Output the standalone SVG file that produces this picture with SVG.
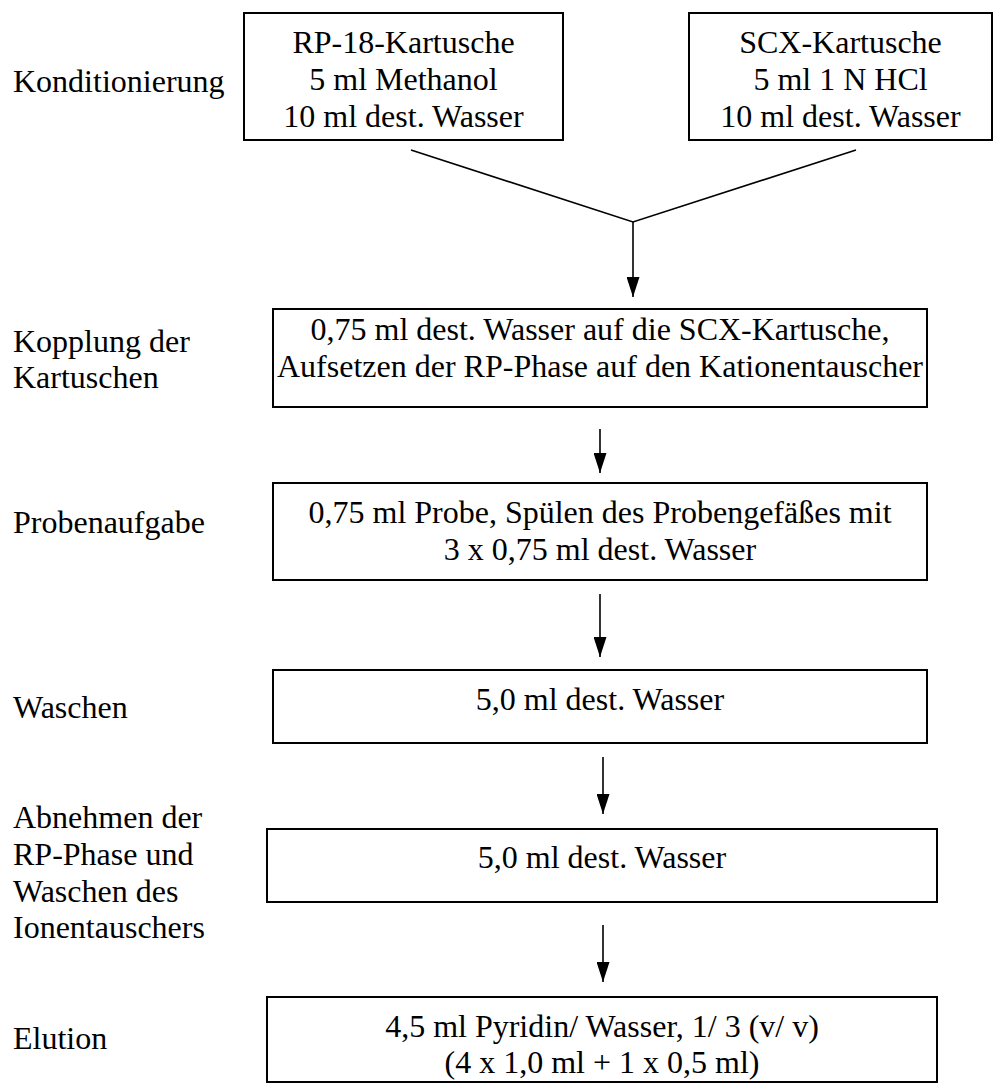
<svg xmlns="http://www.w3.org/2000/svg" width="994" height="1088" viewBox="0 0 994 1088">
<style>
text{font-family:'Liberation Serif','Times New Roman',Times,'DejaVu Serif',serif;font-size:32px;fill:#000}
.c{text-anchor:middle}
.box{fill:#fff;stroke:#000;stroke-width:2}
.con{stroke:#000;stroke-width:1.6;fill:none}
</style>
<defs>
<marker id="ah" viewBox="0 0 20 13" refX="20" refY="6.5" markerWidth="20" markerHeight="13" markerUnits="userSpaceOnUse" orient="auto">
<path d="M0,0 L20,6.5 L0,13 z" fill="#000"/>
</marker>
</defs>
<g font-family="Liberation Serif, Times New Roman, serif">
<g id="labels">
<text x="13" y="92">Konditionierung</text>
<text x="13" y="352">Kopplung der</text>
<text x="13" y="388">Kartuschen</text>
<text x="13" y="533">Probenaufgabe</text>
<text x="13" y="718">Waschen</text>
<text x="13" y="828">Abnehmen der</text>
<text x="13" y="865">RP-Phase und</text>
<text x="13" y="902">Waschen des</text>
<text x="13" y="938">Ionentauschers</text>
<text x="13" y="1049">Elution</text>
</g>
<g id="rp18">
<rect class="box" x="244" y="13" width="319" height="127"/>
<text class="c" x="403.5" y="53">RP-18-Kartusche</text>
<text class="c" x="403.5" y="90">5 ml Methanol</text>
<text class="c" x="403.5" y="127">10 ml dest. Wasser</text>
</g>
<g id="scx">
<rect class="box" x="689" y="13" width="303" height="127"/>
<text class="c" x="840.5" y="53">SCX-Kartusche</text>
<text class="c" x="840.5" y="90">5 ml 1 N HCl</text>
<text class="c" x="840.5" y="127">10 ml dest. Wasser</text>
</g>
<g id="kopplung">
<rect class="box" x="273" y="309" width="654" height="98"/>
<text class="c" x="600" y="340">0,75 ml dest. Wasser auf die SCX-Kartusche,</text>
<text class="c" x="600" y="377">Aufsetzen der RP-Phase auf den Kationentauscher</text>
</g>
<g id="probe">
<rect class="box" x="273" y="483" width="654" height="97"/>
<text class="c" x="600" y="523">0,75 ml Probe, Spülen des Probengefäßes mit</text>
<text class="c" x="600" y="560">3 x 0,75 ml dest. Wasser</text>
</g>
<g id="waschen">
<rect class="box" x="273" y="670" width="654" height="73"/>
<text class="c" x="600" y="710">5,0 ml dest. Wasser</text>
</g>
<g id="abnehmen">
<rect class="box" x="267" y="829" width="670" height="73"/>
<text class="c" x="602" y="868">5,0 ml dest. Wasser</text>
</g>
<g id="elution">
<rect class="box" x="267" y="997" width="670" height="85"/>
<text class="c" x="602" y="1037">4,5 ml Pyridin/ Wasser, 1/ 3 (v/ v)</text>
<text class="c" x="602" y="1073">(4 x 1,0 ml + 1 x 0,5 ml)</text>
</g>
</g>
<g id="connectors">
<polyline class="con" points="411,150 633,222 856,150"/>
<line class="con" x1="633" y1="222" x2="633" y2="297" marker-end="url(#ah)"/>
<line class="con" x1="600" y1="429" x2="600" y2="473" marker-end="url(#ah)"/>
<line class="con" x1="600" y1="594" x2="600" y2="657" marker-end="url(#ah)"/>
<line class="con" x1="603" y1="757" x2="603" y2="814" marker-end="url(#ah)"/>
<line class="con" x1="603" y1="925" x2="603" y2="982" marker-end="url(#ah)"/>
</g>
</svg>
